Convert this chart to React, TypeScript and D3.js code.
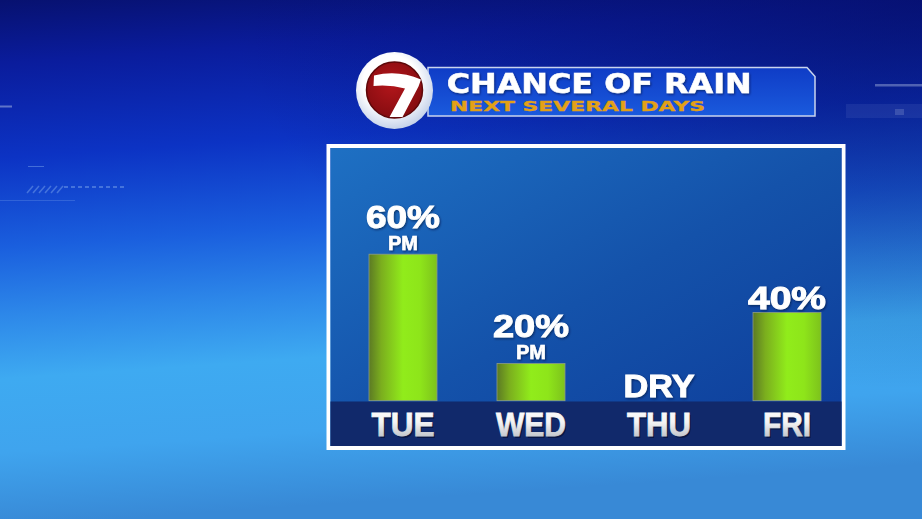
import * as d3 from 'd3';

// chart data
const days = ['TUE', 'WED', 'THU', 'FRI'];
const rainChance = [60, 20, 0, 40];
const periods = ['PM', 'PM', '', ''];
const dryLabel = 'DRY';
const title = 'CHANCE OF RAIN';
const subtitle = 'NEXT SEVERAL DAYS';

// layout
const W = 922;
const H = 519;
const panel = {x: 330.5, y: 148, w: 511, h: 298};
const baseY = 400.7;
const barW = 68;
const font = "'Liberation Sans', Arial, Helvetica, sans-serif";
const wideFont = "'DejaVu Sans', Verdana, sans-serif";

// label widths (the broadcast font is wider than Arial)
const valueWidth: { [k: string]: number } = {'60%': 74, '20%': 76, '40%': 78, DRY: 71};
const dayWidth: { [k: string]: number } = {TUE: 63, WED: 70, THU: 64, FRI: 48};

export default function App() {
  const x = d3.scalePoint<string>().domain(days).range([403, 787]);
  // the graphic's bars grow a little faster than linear
  const h = d3.scalePow().exponent(1.25).domain([0, 60]).range([0, 146.5]);

  const line = d3.line();

  return (
    <svg width={W} height={H} style={{position: 'absolute', left: 0, top: 0, display: 'block'}}>
      <defs>
        <linearGradient id="bg" x1="0" y1="0" x2="0.12" y2="1">
          <stop offset="0" stopColor="#071170" />
          <stop offset="0.12" stopColor="#0a1c9c" />
          <stop offset="0.3" stopColor="#0c33c4" />
          <stop offset="0.47" stopColor="#1a5fde" />
          <stop offset="0.6" stopColor="#2d88e9" />
          <stop offset="0.72" stopColor="#3eaaf1" />
          <stop offset="0.86" stopColor="#3fa4ee" />
          <stop offset="1" stopColor="#3889d6" />
        </linearGradient>
        <radialGradient id="bgDark" cx="1" cy="0" r="0.75">
          <stop offset="0" stopColor="#040a5a" stopOpacity="0.6" />
          <stop offset="1" stopColor="#040a5a" stopOpacity="0" />
        </radialGradient>
        <linearGradient id="panelFill" x1="0" y1="0" x2="1" y2="1">
          <stop offset="0" stopColor="#1e70c3" />
          <stop offset="0.5" stopColor="#1452aa" />
          <stop offset="1" stopColor="#0d3b99" />
        </linearGradient>
        <linearGradient id="bar" x1="0" y1="0" x2="1" y2="0">
          <stop offset="0" stopColor="#5c7a24" />
          <stop offset="0.18" stopColor="#7bae1e" />
          <stop offset="0.5" stopColor="#91ec1b" />
          <stop offset="0.75" stopColor="#8ee51a" />
          <stop offset="1" stopColor="#7dc21c" />
        </linearGradient>
        <linearGradient id="dayText" x1="0" y1="0" x2="0" y2="1">
          <stop offset="0" stopColor="#ffffff" />
          <stop offset="0.45" stopColor="#f4f4f4" />
          <stop offset="1" stopColor="#aeb3bc" />
        </linearGradient>
        <linearGradient id="banner" x1="0" y1="0" x2="0" y2="1">
          <stop offset="0" stopColor="#0f3cc6" />
          <stop offset="1" stopColor="#1a5add" />
        </linearGradient>
        <radialGradient id="ring" cx="0.45" cy="0.4" r="0.6">
          <stop offset="0.6" stopColor="#ffffff" />
          <stop offset="1" stopColor="#c6d3ea" />
        </radialGradient>
        <radialGradient id="red" cx="0.45" cy="0.4" r="0.6">
          <stop offset="0" stopColor="#b3161b" />
          <stop offset="1" stopColor="#850c10" />
        </radialGradient>
        <filter id="shadow" x="-10%" y="-20%" width="130%" height="150%">
          <feDropShadow dx="1" dy="1.2" stdDeviation="0.8" floodColor="#000a30" floodOpacity="0.6" />
        </filter>
      </defs>

      {/* background */}
      <rect x={0} y={0} width={W} height={H} fill="url(#bg)" />
      <rect x={0} y={0} width={W} height={H} fill="url(#bgDark)" />

      {/* faint decorative pieces */}
      <g opacity={0.55}>
        <rect x={0} y={105.5} width={12} height={2} fill="#a6b6e0" />
        <rect x={0} y={200} width={75} height={1} fill="#6f9ae8" opacity={0.6} />
        <rect x={28} y={166} width={16} height={1} fill="#6f9ae8" />
        {[0, 1, 2, 3, 4, 5].map(i => (
          <path key={i}
            d={line([[27 + i * 6, 193], [33 + i * 6, 186]]) || ''}
            stroke="#6f9ae8" strokeWidth={1.5} />
        ))}
        <path d={line([[64, 187], [125, 187]]) || ''} stroke="#6f9ae8" strokeWidth={2} strokeDasharray="4 3" />
        <rect x={875} y={84} width={47} height={2.5} fill="#8a9ad0" />
        <rect x={846} y={104} width={76} height={14} fill="#5a6cc0" opacity={0.35} />
        <rect x={895} y={109} width={9} height={6} fill="#8a9ad0" opacity={0.6} />
      </g>

      {/* title banner */}
      <path d="M428,67.5 L807,67.5 L815,76.5 L815,116 L428,116 Z"
        fill="url(#banner)" stroke="#c9d4ee" strokeWidth={1.5} />
      <text x={446.7} y={92.7} fontFamily={wideFont} fontWeight="bold" fontSize={26.5}
        textLength={305} lengthAdjust="spacingAndGlyphs" fill="#ffffff"
        stroke="#ffffff" strokeWidth={0.5} filter="url(#shadow)">
        {title}
      </text>
      <text x={450} y={111} fontFamily={wideFont} fontWeight="bold" fontSize={14}
        textLength={255} lengthAdjust="spacingAndGlyphs" fill="#e3a116"
        stroke="#e3a116" strokeWidth={0.3}>
        {subtitle}
      </text>

      {/* logo */}
      <circle cx={394.5} cy={90.5} r={38.5} fill="url(#ring)" />
      <circle cx={394.5} cy={90} r={28} fill="url(#red)" stroke="#5e0709" strokeWidth={1.5} />
      <path d="M374,75.5 Q398,69.5 421,79.5 L418.5,86.5 L402.5,117 L389.5,117 L405,88.5 Q390,84.5 373.5,86 Z"
        fill="#ffffff" />

      {/* panel */}
      <rect x={panel.x - 2} y={panel.y - 2} width={panel.w + 4} height={panel.h + 4}
        fill="none" stroke="#ffffff" strokeWidth={4} />
      <rect x={panel.x} y={panel.y} width={panel.w} height={panel.h} fill="url(#panelFill)" />
      <rect x={panel.x} y={baseY + 0.8} width={panel.w} height={panel.y + panel.h - baseY - 0.8}
        fill="#11296b" />

      {/* bars */}
      {days.map((d, i) => rainChance[i] > 0 && (
        <rect key={d}
          x={(x(d) as number) - barW / 2}
          y={baseY - h(rainChance[i])}
          width={barW}
          height={h(rainChance[i])}
          fill="url(#bar)" stroke="#8c9c86" strokeWidth={0.8} />
      ))}

      {/* value labels */}
      {days.map((d, i) => {
        const v = rainChance[i];
        const label = v > 0 ? `${v}%` : dryLabel;
        const top = baseY - h(v);
        const hasPeriod = periods[i] !== '';
        const mainY = hasPeriod ? top - 4.5 - 22 : top - 3.5;
        return (
          <g key={d} fontFamily={font} fontWeight="bold" fill="#ffffff" stroke="#ffffff"
            textAnchor="middle" filter="url(#shadow)">
            <text x={x(d)} y={mainY} fontSize={31} strokeWidth={0.9}
              textLength={valueWidth[label]} lengthAdjust="spacingAndGlyphs">{label}</text>
            {hasPeriod && (
              <text x={x(d)} y={top - 4.5} fontSize={20} strokeWidth={0.6}>{periods[i]}</text>
            )}
          </g>
        );
      })}

      {/* day labels */}
      {days.map(d => (
        <g key={d} fontFamily={font} fontWeight="bold" fontSize={34} textAnchor="middle">
          <text x={(x(d) as number) + 1.5} y={437.5} fill="#050f35" opacity={0.7}
            textLength={dayWidth[d]} lengthAdjust="spacingAndGlyphs">{d}</text>
          <text x={x(d)} y={436} fill="url(#dayText)" stroke="url(#dayText)" strokeWidth={0.8}
            textLength={dayWidth[d]} lengthAdjust="spacingAndGlyphs">{d}</text>
        </g>
      ))}
    </svg>
  );
}
